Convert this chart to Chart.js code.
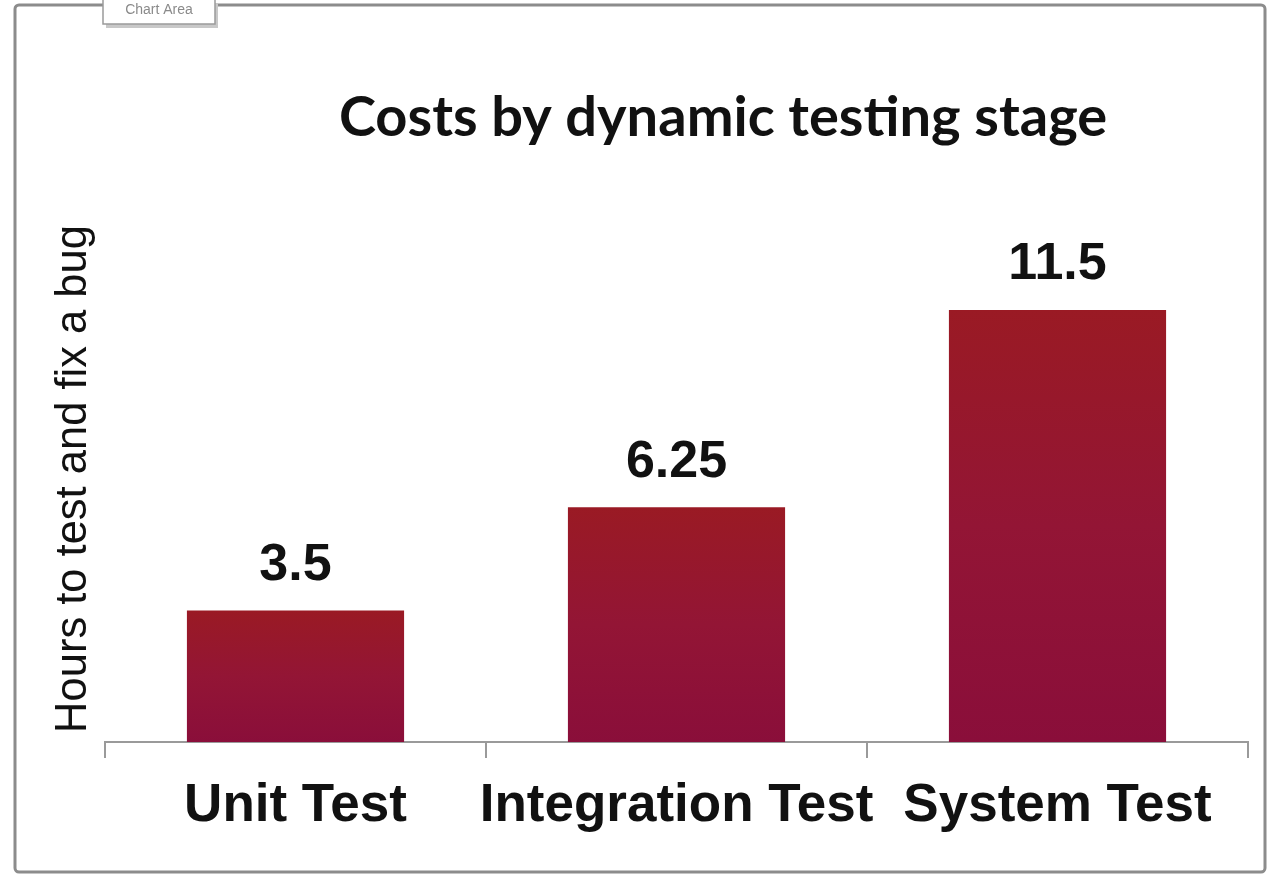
<!DOCTYPE html>
<html>
<head>
<meta charset="utf-8">
<script src="https://cdn.jsdelivr.net/npm/chart.js@4/dist/chart.umd.min.js"></script>
<style>
    html, body { margin: 0; padding: 0; background: #ffffff; }
    #wrap { width: 1280px; height: 885px; position: relative; }
</style>
</head>
<body>
<div id="wrap"><canvas id="costChart"></canvas></div>
<script>
// Chart data
const stages = ['Unit Test', 'Integration Test', 'System Test'];
const hours = [3.5, 6.25, 11.5];
const valueLabels = ['3.5', '6.25', '11.5'];
const yRange = [0, 14];

const chartTitle = 'Costs by dynamic testing stage';
const yTitle = 'Hours to test and fix a bug';

// Vertical gradient per bar: red on top, wine at the base
function barGradient(ctx) {
    const chart = ctx.chart;
    const area = chart.chartArea;
    if (!area || ctx.dataIndex === undefined) return '#921433';
    const y = chart.scales.y;
    const top = y.getPixelForValue(hours[ctx.dataIndex]);
    const bottom = y.getPixelForValue(0);
    const g = chart.ctx.createLinearGradient(0, top, 0, bottom);
    g.addColorStop(0, '#9a1a24');
    g.addColorStop(0.5, '#931535');
    g.addColorStop(1, '#8a0e3a');
    return g;
}

// Frame, "Chart Area" tag and title
const framePlugin = {
    id: 'frame',
    beforeDraw(chart) {
        const c = chart.ctx;
        c.save();
        c.fillStyle = '#ffffff';
        c.fillRect(0, 0, chart.width, chart.height);
        c.strokeStyle = '#8c8c8c';
        c.lineWidth = 3;
        c.beginPath();
        c.roundRect(15, 5, 1250, 867, 4);
        c.stroke();
        c.restore();
    },
    afterDraw(chart) {
        const c = chart.ctx;
        c.save();
        // little selection tag
        c.fillStyle = '#c8c8c8';
        c.fillRect(106, 4, 112, 24);
        c.fillStyle = '#ffffff';
        c.fillRect(103, 0, 112, 24);
        c.strokeStyle = '#9a9a9a';
        c.lineWidth = 1.5;
        c.strokeRect(103, -2, 112, 26);
        c.fillStyle = '#8a8a8a';
        c.font = '14px "Liberation Sans", Arial, sans-serif';
        c.textAlign = 'center';
        c.textBaseline = 'middle';
        c.fillText('Chart Area', 159, 10);
        // title
        c.fillStyle = '#111111';
        c.font = 'bold 56px Lato, "Open Sans", sans-serif';
        c.fillText(chartTitle, 723, 118);
        c.restore();
    }
};

// Value labels above the bars
const valuePlugin = {
    id: 'values',
    afterDatasetsDraw(chart) {
        const c = chart.ctx;
        const meta = chart.getDatasetMeta(0);
        c.save();
        c.fillStyle = '#111111';
        c.font = 'bold 52px "Liberation Sans", Arial, sans-serif';
        c.textAlign = 'center';
        c.textBaseline = 'middle';
        meta.data.forEach((bar, i) => {
            c.fillText(valueLabels[i], bar.x, bar.y - 45);
        });
        c.restore();
    }
};

const ctx = document.getElementById('costChart').getContext('2d');
new Chart(ctx, {
    type: 'bar',
    data: {
        labels: stages,
        datasets: [{
            data: hours,
            backgroundColor: barGradient,
            borderWidth: 0,
            categoryPercentage: 1,
            barPercentage: 0.57
        }]
    },
    options: {
        responsive: true,
        maintainAspectRatio: false,
        animation: false,
        layout: {
            padding: { left: 0, right: 32, top: 216, bottom: 0 }
        },
        plugins: {
            legend: { display: false },
            tooltip: { enabled: false }
        },
        scales: {
            x: {
                grid: {
                    offset: true,
                    drawOnChartArea: false,
                    drawTicks: true,
                    tickLength: 16,
                    color: '#9a9a9a',
                    lineWidth: 2
                },
                border: { display: true, color: '#9a9a9a', width: 2 },
                ticks: {
                    color: '#111111',
                    padding: 17,
                    maxRotation: 0,
                    minRotation: 0,
                    autoSkip: false,
                    font: { family: '"Liberation Sans", Arial, sans-serif', size: 53, weight: 'bold' }
                },
                afterFit(scale) { scale.height = 143; }
            },
            y: {
                min: yRange[0],
                max: yRange[1],
                grid: { display: false },
                border: { display: false },
                ticks: { display: false },
                title: {
                    display: true,
                    text: yTitle,
                    color: '#111111',
                    padding: { top: 48, bottom: 0 },
                    font: { family: '"Liberation Sans", Arial, sans-serif', size: 43.5, weight: 'normal' }
                },
                afterFit(scale) { scale.width = 105; }
            }
        }
    },
    plugins: [framePlugin, valuePlugin]
});
</script>
</body>
</html>
